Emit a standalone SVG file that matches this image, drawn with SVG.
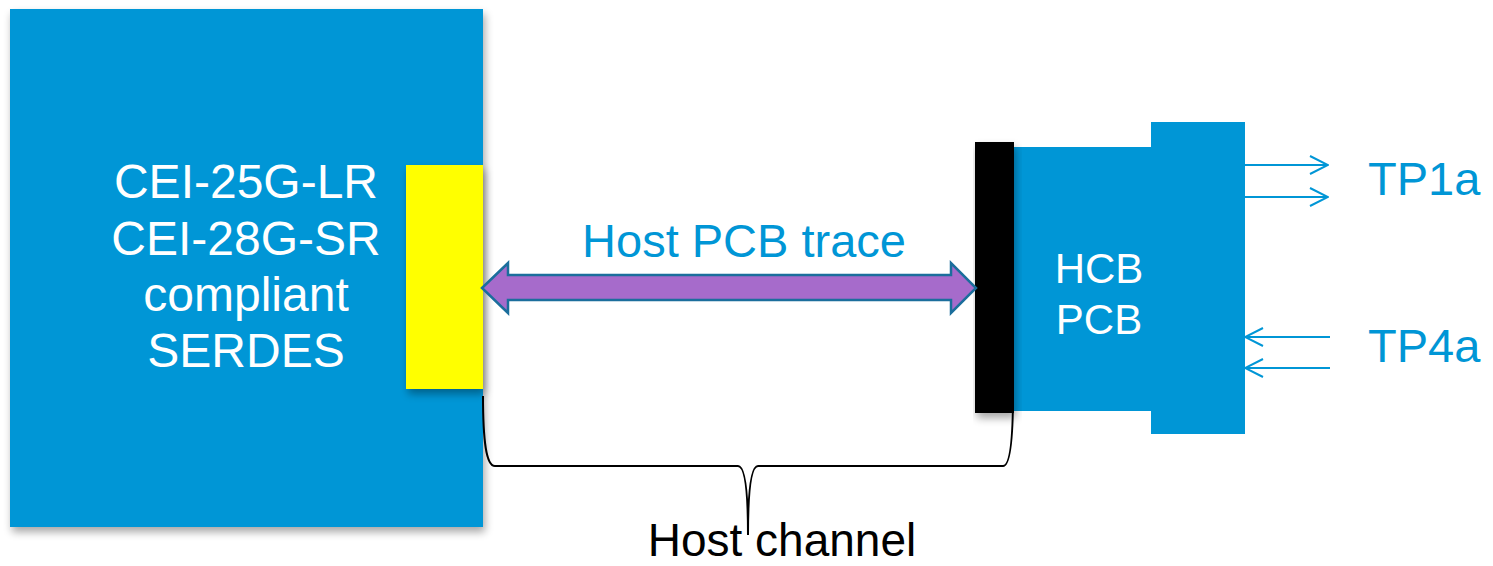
<svg xmlns="http://www.w3.org/2000/svg" width="1493" height="566" viewBox="0 0 1493 566">
<style>
.blue{fill:#0096D6}
.wt{font-family:"Liberation Sans",Arial,sans-serif;fill:#FFFFFF;text-anchor:middle}
.bt{font-family:"Liberation Sans",Arial,sans-serif;fill:#0096D6}
.kt{font-family:"Liberation Sans",Arial,sans-serif;fill:#000000;text-anchor:middle}
.tp{stroke:#0096D6;stroke-width:2;fill:none}
</style>
<defs>
<filter id="sh" x="-10%" y="-10%" width="130%" height="130%">
<feGaussianBlur in="SourceAlpha" stdDeviation="4"/>
<feOffset dx="2" dy="5" result="b"/>
<feComponentTransfer><feFuncA type="linear" slope="0.35"/></feComponentTransfer>
<feMerge><feMergeNode/><feMergeNode in="SourceGraphic"/></feMerge>
</filter>
<marker id="open" viewBox="0 0 20 20" refX="19" refY="10" markerWidth="20" markerHeight="20" markerUnits="userSpaceOnUse" orient="auto">
<path d="M1,1 L19,10 L1,19" fill="none" stroke="#0096D6" stroke-width="2"/>
</marker>
</defs>
<g id="serdes">
<rect x="10" y="9" width="473" height="518" class="blue" filter="url(#sh)"/>
<rect x="406" y="165" width="77" height="224" fill="#FFFF00" filter="url(#sh)"/>
<text class="wt" font-size="48" x="246" y="198">CEI-25G-LR</text>
<text class="wt" font-size="48" x="246" y="255">CEI-28G-SR</text>
<text class="wt" font-size="48" x="246" y="311">compliant</text>
<text class="wt" font-size="48" x="246" y="367">SERDES</text>
</g>
<g id="hcb">
<rect x="1151" y="122" width="94" height="312" class="blue"/>
<rect x="1012" y="147" width="140" height="264" class="blue"/>
<rect x="975" y="142" width="39" height="271" fill="#000000" filter="url(#sh)"/>
<text class="wt" font-size="42" x="1099" y="283">HCB</text>
<text class="wt" font-size="42" x="1099" y="334">PCB</text>
</g>
<g id="connectors">
<path d="M482,288 L508,263 L508,275 L951,275 L951,263 L976,288 L951,313 L951,300 L508,300 L508,313 Z" fill="#A66BCB" stroke="#1B6E9C" stroke-width="2.5" stroke-linejoin="miter"/>
<path d="M483,396 C483,440 486,466 495,466 L738,466 C745,466 748,490 748,535 C748,490 751,466 758,466 L1003,466 C1010,466 1013,440 1013,394" fill="none" stroke="#000000" stroke-width="2"/>
<line class="tp" x1="1245" y1="165" x2="1328" y2="165" marker-end="url(#open)"/>
<line class="tp" x1="1245" y1="197" x2="1328" y2="197" marker-end="url(#open)"/>
<line class="tp" x1="1330" y1="337" x2="1245" y2="337" marker-end="url(#open)"/>
<line class="tp" x1="1330" y1="368" x2="1245" y2="368" marker-end="url(#open)"/>
</g>
<g id="labels">
<text class="bt" font-size="47" x="744" y="257" text-anchor="middle">Host PCB trace</text>
<text class="bt" font-size="47" x="1368" y="195">TP1a</text>
<text class="bt" font-size="47" x="1368" y="362">TP4a</text>
<text class="kt" font-size="46" x="782" y="556">Host channel</text>
</g>
</svg>
